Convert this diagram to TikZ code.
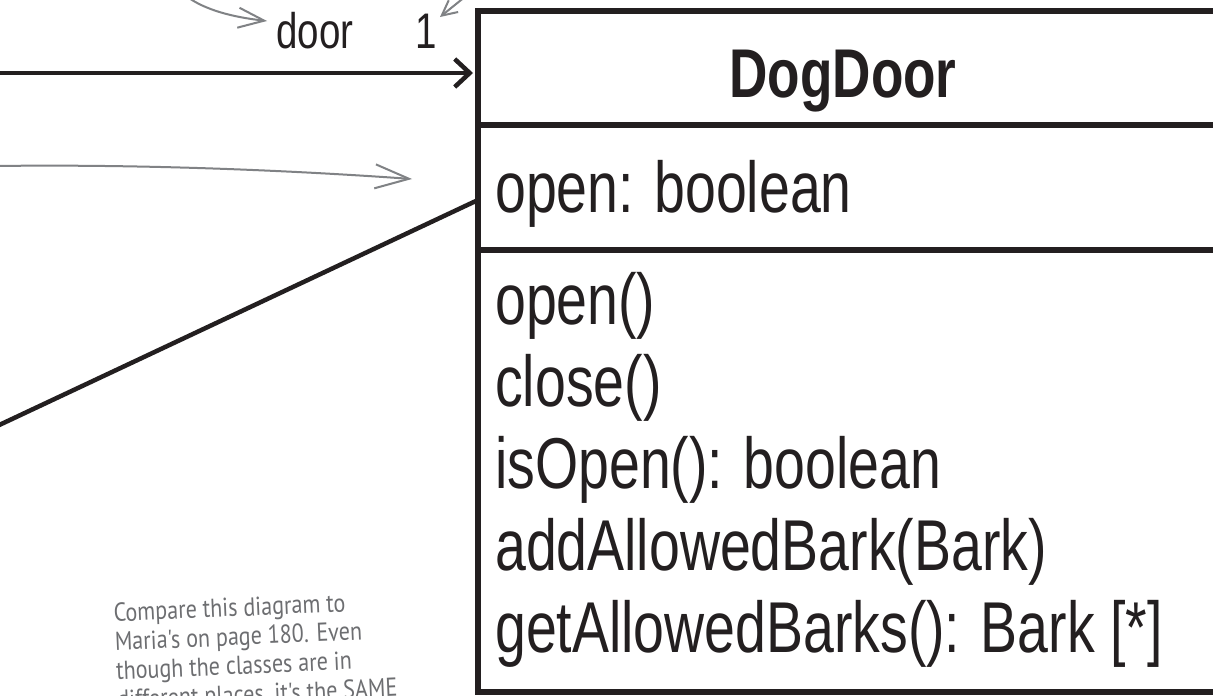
\documentclass[tikz,border=0pt]{standalone}
\usepackage{fontspec}
\setmainfont{Liberation Sans}[FakeStretch=0.77]
\newfontfamily\handfont{PT Sans}[FakeStretch=0.85]
\usetikzlibrary{arrows.meta}
\definecolor{ink}{HTML}{231F20}
\definecolor{pencil}{HTML}{808285}
\definecolor{handgray}{HTML}{6D6E71}
\tikzset{
  umlline/.style={draw=ink, line width=6pt},
  classname/.style={font=\fontsize{69}{72}\selectfont\bfseries, text=ink, inner sep=0pt, anchor=base},
  member/.style={font=\fontsize{72}{82}\selectfont, text=ink, inner sep=0pt, anchor=base west},
  multlabel/.style={font=\fontsize{50}{55}\selectfont, text=ink, inner sep=0pt, anchor=base west},
  assoc/.style={draw=ink, line width=4.5pt, line cap=round},
  assocarrow/.style={assoc, -{Straight Barb[length=15pt,width=28pt]}},
  pencilline/.style={draw=pencil, line width=2pt, line cap=round, line join=round},
  hand/.style={font=\handfont\fontsize{26}{29}\selectfont, text=handgray, align=left, inner sep=0pt, anchor=north west, rotate=2.5}
}
\begin{document}
\begin{tikzpicture}[x=1pt,y=-1pt]
\useasboundingbox (0,0) rectangle (1213,696);
\fill[white] (0,0) rectangle (1213,696);
\clip (0,0) rectangle (1213,696);

% class box
\node[draw=ink, line width=6.5pt, fill=white, outer sep=0pt, inner sep=0pt,
      minimum width=800pt, minimum height=681pt, anchor=north west] (box) at (478,11) {};
\draw[umlline] (box.west |- 0,125) -- ++(800,0);
\draw[umlline] (box.west |- 0,250) -- ++(800,0);

\node[classname] (cname) at (843,97) {DogDoor};
\node[member] (attr) at (495,212) {open: boolean};
\node[member] (m1) at (495,324) {open()};
\node[member] (m2) at (495,406) {close()};
\node[member] (m3) at (495,488) {isOpen(): boolean};
\node[member] (m4) at (495,570) {addAllowedBark(Bark)};
\node[member] (m5) at (495,652) {getAllowedBarks(): Bark [*]};

% association labels
\node[multlabel] (role) at (276,48) {door};
\node[multlabel] (mult) at (415,48) {1};

% associations
\coordinate (srcA) at (-5,73);
\draw[assocarrow, shorten >=5pt] (srcA) -- (box.west |- srcA);
\coordinate (srcB) at (-5,427);
\coordinate (endB) at (box.west |- 0,200);
\draw[assoc] (srcB) -- (endB);

% pencil annotations
\coordinate (n1s) at (186,-4);
\coordinate (n1e) at (267,21);
\draw[pencilline, -{Straight Barb[length=26pt,width=20pt]}] (n1s) .. controls (205,10) and (232,17) .. (n1e);
\coordinate (n2s) at (466,-4);
\coordinate (n2e) at (440,17);
\draw[pencilline, -{Straight Barb[length=15pt,width=15pt]}] (n2s) -- (n2e);
\coordinate (n3s) at (-5,166);
\coordinate (n3e) at (412,179);
\draw[pencilline, -{Straight Barb[length=34pt,width=24pt]}] (n3s) .. controls (150,164) and (300,171) .. (n3e);

% handwritten note
\node[hand] (note) at (113,603) {Compare this diagram to\\Maria's on page 180. Even\\though the classes are in\\different places, it's the SAME};
\end{tikzpicture}
\end{document}
